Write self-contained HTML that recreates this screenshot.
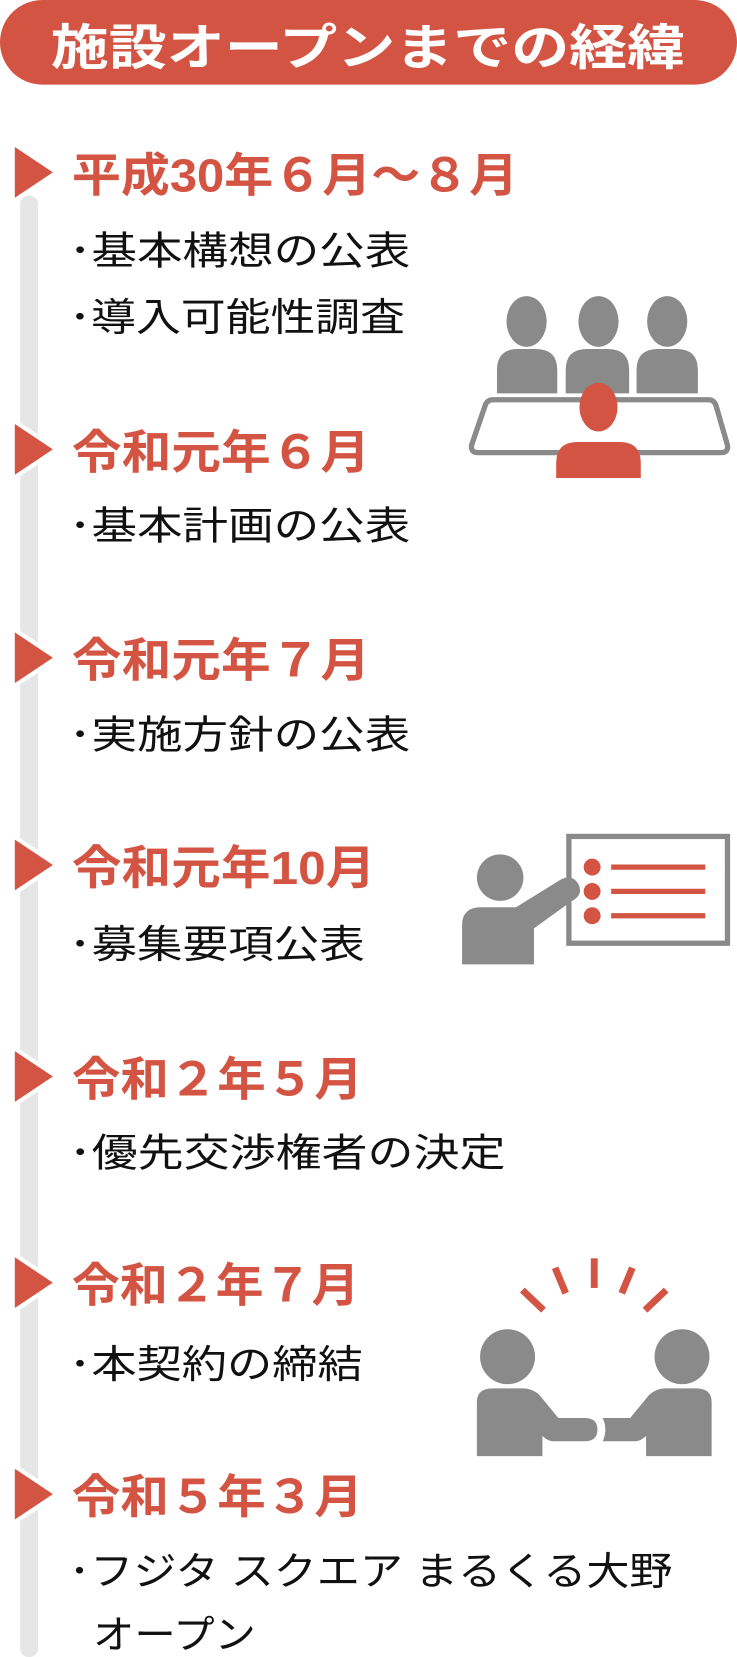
<!DOCTYPE html>
<html><head><meta charset="utf-8"><style>
html,body{margin:0;padding:0;background:#fff;}
svg{display:block;}
text{font-family:"Liberation Sans","Noto Sans CJK JP",sans-serif;}
.h{fill:#d35442;font-weight:bold;font-size:44px;}
.b{fill:#111;font-size:37px;}
</style></head><body>
<svg width="737" height="1657" viewBox="0 0 697 1567" preserveAspectRatio="none" xmlns="http://www.w3.org/2000/svg">
<rect x="0" y="0" width="697" height="80" rx="40" fill="#d35442"/>
<text x="348" y="61" text-anchor="middle" fill="#fff" font-weight="bold" font-size="46" textLength="600" lengthAdjust="spacingAndGlyphs">施設オープンまでの経緯</text>

<rect x="19" y="185" width="17" height="1382" rx="8" fill="#e6e6e6"/>
<g fill="#d35442" stroke="#fff" stroke-width="8" stroke-linejoin="miter">
<polygon points="14,139 50,163 14,187"/>
<polygon points="14,401 50,425 14,449"/>
<polygon points="14,598 50,622 14,646"/>
<polygon points="14,794 50,818 14,842"/>
<polygon points="14,994 50,1018 14,1042"/>
<polygon points="14,1189 50,1213 14,1237"/>
<polygon points="14,1389 50,1413 14,1437"/>
</g>
<g fill="#d35442">
<polygon points="14,139 50,163 14,187"/>
<polygon points="14,401 50,425 14,449"/>
<polygon points="14,598 50,622 14,646"/>
<polygon points="14,794 50,818 14,842"/>
<polygon points="14,994 50,1018 14,1042"/>
<polygon points="14,1189 50,1213 14,1237"/>
<polygon points="14,1389 50,1413 14,1437"/>
</g>

<text class="h" x="68" y="181" textLength="422" lengthAdjust="spacingAndGlyphs">平成30年６月～８月</text>
<text class="h" x="68" y="443" textLength="282" lengthAdjust="spacingAndGlyphs">令和元年６月</text>
<text class="h" x="68" y="640" textLength="282" lengthAdjust="spacingAndGlyphs">令和元年７月</text>
<text class="h" x="68" y="836" textLength="287" lengthAdjust="spacingAndGlyphs">令和元年10月</text>
<text class="h" x="68" y="1036" textLength="275" lengthAdjust="spacingAndGlyphs">令和２年５月</text>
<text class="h" x="68" y="1231" textLength="272" lengthAdjust="spacingAndGlyphs">令和２年７月</text>
<text class="h" x="68" y="1431" textLength="275" lengthAdjust="spacingAndGlyphs">令和５年３月</text>

<text class="b" x="65" y="250" textLength="323" lengthAdjust="spacingAndGlyphs">･基本構想の公表</text>
<text class="b" x="65" y="313" textLength="318" lengthAdjust="spacingAndGlyphs">･導入可能性調査</text>
<text class="b" x="65" y="510" textLength="323" lengthAdjust="spacingAndGlyphs">･基本計画の公表</text>
<text class="b" x="65" y="708" textLength="323" lengthAdjust="spacingAndGlyphs">･実施方針の公表</text>
<text class="b" x="65" y="906" textLength="280" lengthAdjust="spacingAndGlyphs">･募集要項公表</text>
<text class="b" x="65" y="1103" textLength="413" lengthAdjust="spacingAndGlyphs">･優先交渉権者の決定</text>
<text class="b" x="65" y="1303" textLength="278" lengthAdjust="spacingAndGlyphs">･本契約の締結</text>
<text class="b" x="65" y="1499" textLength="571" lengthAdjust="spacingAndGlyphs">･フジタ スクエア まるくる大野</text>
<text class="b" x="88" y="1559" textLength="154" lengthAdjust="spacingAndGlyphs">オープン</text>

<g fill="#8a8a8a">
<ellipse cx="498" cy="304" rx="19" ry="24"/>
<ellipse cx="566" cy="304" rx="19" ry="24"/>
<ellipse cx="631" cy="304" rx="19" ry="24"/>
<path d="M470,372 V350 Q470,330 490,330 H507 Q527,330 527,350 V372 Z"/>
<path d="M535,372 V350 Q535,330 555,330 H575 Q595,330 595,350 V372 Z"/>
<path d="M602,372 V350 Q602,330 622,330 H640 Q660,330 660,350 V372 Z"/>
</g>
<path d="M466,378 H670 Q675,378 677,383 L688,421 Q689,428 682,428 H452 Q445,428 446,421 L459,383 Q461,378 466,378 Z" fill="none" stroke="#8a8a8a" stroke-width="5"/>
<g fill="#d35442">
<ellipse cx="566" cy="385" rx="18" ry="23"/>
<path d="M526,452 V438 Q526,418 546,418 H586 Q606,418 606,438 V452 Z"/>
</g>

<rect x="538" y="791" width="150" height="101" fill="none" stroke="#8a8a8a" stroke-width="5"/>
<g fill="#d35442">
<circle cx="560" cy="820" r="8"/><circle cx="560" cy="843" r="8"/><circle cx="560" cy="866" r="8"/>
</g>
<g stroke="#d35442" stroke-width="5">
<line x1="578" y1="820" x2="667" y2="820"/><line x1="578" y1="843" x2="667" y2="843"/><line x1="578" y1="866" x2="667" y2="866"/>
</g>
<g fill="#8a8a8a">
<circle cx="473" cy="830" r="22"/>
<path d="M437,912 V875 Q437,858 455,858 H488 L530,832 Q541,826 547,836 Q552,846 541,852 L505,878 V912 Z"/>
</g>

<!-- handshake -->
<g stroke="#d35442" stroke-width="6.5">
<line x1="494" y1="1220" x2="514" y2="1239"/>
<line x1="525" y1="1199" x2="535" y2="1223"/>
<line x1="562" y1="1190" x2="562" y2="1218"/>
<line x1="598" y1="1199" x2="588" y2="1223"/>
<line x1="630" y1="1220" x2="610" y2="1239"/>
</g>
<g fill="#8a8a8a">
<circle cx="480" cy="1283" r="26"/>
<circle cx="645" cy="1283" r="26"/>
<path d="M451,1377 V1326 Q451,1313 466,1313 H495 Q503,1313 510,1319 L528,1341 H553 Q565,1341 565,1352 Q565,1363 553,1363 H524 Q518,1363 513,1358 V1377 Z"/>
<path d="M673,1377 V1326 Q673,1313 658,1313 H629 Q621,1313 614,1319 L596,1341 H570 Q575,1352 570,1363 H600 Q606,1363 611,1358 V1377 Z"/>
</g>
</svg>
</body></html>
